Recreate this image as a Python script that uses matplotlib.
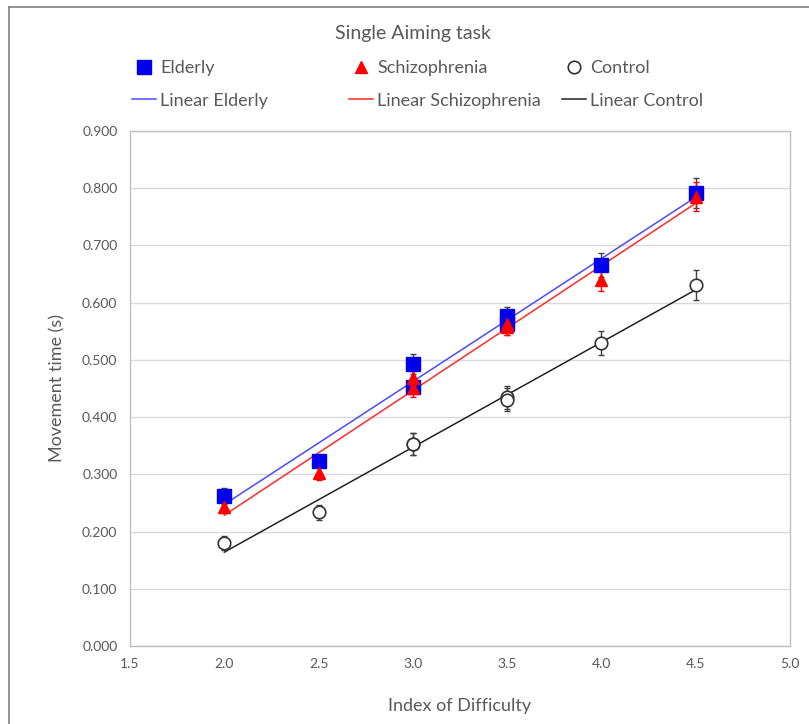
import numpy as np
import matplotlib.pyplot as plt
from matplotlib.lines import Line2D

plt.rcParams['font.family'] = ['Lato', 'DejaVu Sans']

# Index of difficulty for each of the eight target conditions
index_difficulty = [2.0, 2.5, 3.0, 3.0, 3.5, 3.5, 4.0, 4.5]

# Mean movement time (s) and error per group
elderly = [0.262, 0.323, 0.493, 0.453, 0.577, 0.562, 0.666, 0.791]
elderly_err = [0.014, 0.006, 0.017, 0.010, 0.015, 0.012, 0.021, 0.026]
schizo = [0.243, 0.302, 0.468, 0.451, 0.562, 0.558, 0.640, 0.785]
schizo_err = [0.010, 0.012, 0.013, 0.015, 0.019, 0.015, 0.020, 0.025]
control = [0.180, 0.234, 0.353, 0.353, 0.435, 0.430, 0.530, 0.631]
control_err = [0.013, 0.013, 0.020, 0.020, 0.020, 0.020, 0.021, 0.026]

x_ticks = [1.5, 2.0, 2.5, 3.0, 3.5, 4.0, 4.5, 5.0]
y_ticks = [0.0, 0.1, 0.2, 0.3, 0.4, 0.5, 0.6, 0.7, 0.8, 0.9]

grey_txt = '#595959'

fig = plt.figure(figsize=(8.09, 7.24), dpi=100)
ax = fig.add_axes([130 / 809, 1 - 646 / 724, 660 / 809, 515 / 724])

x = np.array(index_difficulty)
xs = np.array([x.min(), x.max()])

groups = [
    ('Elderly', elderly, elderly_err, dict(marker='s', color='#0000ee', ms=9.5, mec='#0000ee'), '#4a4aff', '#404040'),
    ('Schizophrenia', schizo, schizo_err, dict(marker='^', color='#ff0000', ms=8, mec='#ff0000'), '#ff2a2a', '#ff0000'),
    ('Control', control, control_err, dict(marker='o', color='white', ms=9, mec='#333333', mew=1.2), '#222222', '#404040'),
]

legends = []
for name, y, err, mstyle, line_col, err_col in groups:
    y = np.array(y)
    # linear trend line fitted to the group means
    k, b = np.polyfit(x, y, 1)
    ln, = ax.plot(xs, k * xs + b, color=line_col, lw=1.1, zorder=2)
    ax.errorbar(x, y, yerr=err, fmt='none', ecolor=err_col, elinewidth=1,
                capsize=2.5, capthick=1, zorder=3)
    mk, = ax.plot(x, y, linestyle='none', zorder=4, **mstyle)
    legends.append((mk, ln, name))

ax.set_xlim(1.5, 5.0)
ax.set_ylim(0, 0.9)
ax.set_xticks(x_ticks)
ax.set_xticklabels([f'{v:.1f}' for v in x_ticks])
ax.set_yticks(y_ticks)
ax.set_yticklabels([f'{v:.3f}' for v in y_ticks])
ax.tick_params(length=0, labelsize=10, colors=grey_txt, pad=9)
ax.grid(axis='y', color='#d9d9d9', lw=1)
ax.set_axisbelow(True)
for s in ax.spines.values():
    s.set_color('#bfbfbf')
    s.set_linewidth(1)

ax.set_xlabel('Index of Difficulty', fontsize=13, color=grey_txt, labelpad=20)
ax.set_ylabel('Movement time (s)', fontsize=13, color=grey_txt, labelpad=12)

fig.text(413 / 809, 1 - 33 / 724, 'Single Aiming task', fontsize=14,
         color=grey_txt, ha='center', va='center')

# one small legend per group: marker on top, trend line underneath
legend_x = [132, 349, 562]
for (mk, ln, name), lx in zip(legends, legend_x):
    leg = fig.legend([mk, ln], [name, 'Linear ' + name], loc='upper left',
                     bbox_to_anchor=(lx / 809, 1 - 60 / 724), frameon=False,
                     fontsize=13, handlelength=1.35, handletextpad=0.2,
                     labelspacing=0.92, borderaxespad=0, borderpad=0,
                     labelcolor=grey_txt)

# chart frame
fig.add_artist(Line2D([9 / 809, 9 / 809], [0, 1 - 7 / 724], color='#808080', lw=1.2))
fig.add_artist(Line2D([9 / 809, 1], [1 - 7 / 724, 1 - 7 / 724], color='#808080', lw=1.2))

fig.savefig('out.png', dpi=100)
